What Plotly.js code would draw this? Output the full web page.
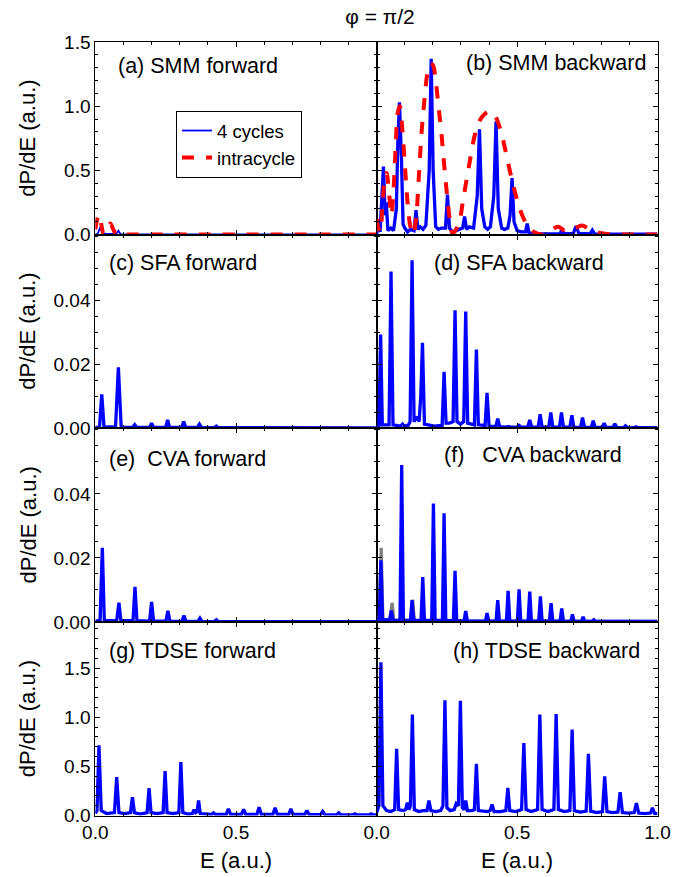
<!DOCTYPE html>
<html>
<head>
<meta charset="utf-8">
<script src="https://cdn.plot.ly/plotly-3.0.1.min.js"></script>
<style>html,body{margin:0;padding:0;background:#fff;}#chart{width:696px;height:877px;}</style>
</head>
<body>
<div id="chart"></div>
<script>
// ---------------- DATA ----------------
// (a) SMM forward
const aBlueE = [0, 0.008, 0.018, 0.026, 0.04, 0.06, 0.074, 0.082, 0.09, 0.11, 0.5, 1.0];
const aBlueV = [0.0, 0.004, 0.057, 0.008, 0.004, 0.004, 0.004, 0.03, 0.003, 0.001, 0.001, 0.001];
const aRedE = [0, 0.007, 0.014, 0.022, 0.03, 0.042, 0.053, 0.064, 0.075, 0.1, 1.0];
const aRedV = [0.04, 0.12, 0.155, 0.07, 0.0, 0.05, 0.085, 0.04, 0.0, 0.0, 0.0];

// (b) SMM backward
const bBlueE = [0, 0.006, 0.012, 0.018, 0.024, 0.03, 0.034, 0.04, 0.05, 0.06, 0.07, 0.075, 0.081, 0.088, 0.094, 0.1, 0.11, 0.12, 0.133, 0.14, 0.147, 0.155, 0.165, 0.175, 0.187, 0.194, 0.201, 0.21, 0.22, 0.23, 0.245, 0.252, 0.259, 0.27, 0.285, 0.298, 0.306, 0.313, 0.32, 0.33, 0.345, 0.358, 0.366, 0.374, 0.385, 0.395, 0.405, 0.417, 0.425, 0.433, 0.445, 0.455, 0.467, 0.475, 0.482, 0.489, 0.5, 0.515, 0.53, 0.536, 0.542, 0.56, 0.59, 0.62, 0.652, 0.66, 0.668, 0.7, 0.71, 0.72, 0.76, 0.768, 0.776, 0.85, 1.0];
const bBlueV = [0.0, 0.12, 0.02, 0.3, 0.53, 0.15, 0.25, 0.03, 0.05, 0.03, 0.2, 0.7, 1.03, 0.6, 0.08, 0.05, 0.02, 0.04, 0.03, 0.19, 0.04, 0.06, 0.04, 0.07, 0.5, 1.37, 0.5, 0.06, 0.04, 0.05, 0.05, 0.31, 0.05, 0.02, 0.03, 0.04, 0.05, 0.14, 0.04, 0.06, 0.05, 0.3, 0.82, 0.2, 0.06, 0.04, 0.06, 0.3, 0.88, 0.2, 0.05, 0.04, 0.05, 0.15, 0.44, 0.1, 0.03, 0.02, 0.02, 0.086, 0.015, 0.005, 0.003, 0.005, 0.005, 0.035, 0.005, 0.008, 0.065, 0.008, 0.005, 0.034, 0.005, 0.002, 0.002];
const bRedE = [0, 0.006, 0.012, 0.02, 0.028, 0.035, 0.043, 0.052, 0.06, 0.068, 0.075, 0.082, 0.09, 0.1, 0.11, 0.12, 0.13, 0.14, 0.15, 0.16, 0.17, 0.18, 0.19, 0.2, 0.21, 0.22, 0.23, 0.24, 0.25, 0.26, 0.27, 0.29, 0.31, 0.33, 0.35, 0.37, 0.39, 0.4, 0.42, 0.44, 0.46, 0.48, 0.5, 0.52, 0.54, 0.56, 0.59, 0.62, 0.645, 0.67, 0.7, 0.73, 0.76, 0.8, 0.85, 0.9, 1.0];
const bRedV = [0.12, 0.05, 0.02, 0.2, 0.42, 0.48, 0.35, 0.15, 0.35, 0.7, 0.95, 1.0, 0.85, 0.55, 0.25, 0.06, 0.0, 0.12, 0.45, 0.8, 1.05, 1.25, 1.33, 1.32, 1.2, 1.0, 0.8, 0.55, 0.32, 0.12, 0.01, 0.07, 0.3, 0.55, 0.78, 0.9, 0.95, 0.96, 0.93, 0.82, 0.64, 0.44, 0.27, 0.14, 0.06, 0.02, 0.0, 0.03, 0.06, 0.03, 0.04, 0.07, 0.04, 0.01, 0.0, 0.0, 0.0];

// (c) SFA forward
const cE = [0, 0.015, 0.023, 0.031, 0.072, 0.082, 0.092, 0.133, 0.14, 0.147, 0.193, 0.2, 0.207, 0.25, 0.257, 0.264, 0.307, 0.314, 0.321, 0.363, 0.37, 0.377, 0.423, 0.43, 0.437, 0.48, 0.487, 0.494, 1.0];
const cV = [0.0002, 0.0003, 0.0105, 0.0003, 0.0004, 0.019, 0.0003, 0.0002, 0.001, 0.0002, 0.0002, 0.0015, 0.0002, 0.0002, 0.0025, 0.0002, 0.0002, 0.002, 0.0002, 0.0002, 0.0012, 0.0002, 0.0001, 0.0006, 0.0001, 0.0001, 0.0003, 0.0001, 0.0];

// (d) SFA backward
const dE = [0, 0.008, 0.014, 0.02, 0.044, 0.051, 0.058, 0.085, 0.092, 0.099, 0.112, 0.119, 0.126, 0.133, 0.145, 0.151, 0.157, 0.163, 0.17, 0.19, 0.205, 0.233, 0.24, 0.247, 0.259, 0.272, 0.279, 0.286, 0.298, 0.31, 0.317, 0.324, 0.348, 0.355, 0.362, 0.386, 0.393, 0.4, 0.424, 0.431, 0.438, 0.462, 0.469, 0.476, 0.5, 0.507, 0.514, 0.538, 0.545, 0.552, 0.575, 0.582, 0.589, 0.613, 0.62, 0.627, 0.651, 0.658, 0.665, 0.688, 0.695, 0.702, 0.726, 0.733, 0.74, 0.764, 0.771, 0.778, 0.803, 0.81, 0.817, 0.841, 0.848, 0.855, 0.879, 0.886, 0.893, 0.917, 0.924, 0.931, 0.955, 0.962, 0.969, 1.0];
const dV = [0.0005, 0.0008, 0.0293, 0.001, 0.001, 0.049, 0.001, 0.0006, 0.0012, 0.0006, 0.0008, 0.002, 0.0525, 0.002, 0.0035, 0.002, 0.01, 0.0267, 0.0012, 0.0008, 0.0006, 0.0008, 0.0176, 0.0015, 0.0015, 0.002, 0.0369, 0.002, 0.0012, 0.002, 0.0365, 0.0015, 0.001, 0.0246, 0.001, 0.0008, 0.011, 0.0006, 0.0004, 0.0029, 0.0004, 0.0003, 0.0005, 0.0003, 0.0003, 0.0008, 0.0003, 0.0003, 0.0025, 0.0003, 0.0003, 0.0043, 0.0003, 0.0003, 0.0049, 0.0003, 0.0003, 0.0049, 0.0003, 0.0003, 0.004, 0.0003, 0.0002, 0.0033, 0.0002, 0.0002, 0.0023, 0.0002, 0.0002, 0.0015, 0.0002, 0.0002, 0.0013, 0.0002, 0.0001, 0.0007, 0.0001, 0.0001, 0.0004, 0.0001, 0.0001, 0.0003, 0.0001, 0.0001];

// (e) CVA forward
const eE = [0, 0.017, 0.025, 0.032, 0.076, 0.084, 0.091, 0.134, 0.141, 0.148, 0.193, 0.2, 0.207, 0.251, 0.258, 0.265, 0.308, 0.315, 0.322, 0.365, 0.372, 0.379, 0.423, 0.43, 0.437, 0.48, 0.487, 0.494, 1.0];
const eV = [0.0003, 0.0005, 0.0232, 0.0005, 0.0004, 0.006, 0.0004, 0.0004, 0.011, 0.0004, 0.0003, 0.0063, 0.0003, 0.0003, 0.0035, 0.0003, 0.0002, 0.002, 0.0002, 0.0002, 0.0012, 0.0002, 0.0001, 0.0007, 0.0001, 0.0001, 0.0003, 0.0001, 0.0001];

// (f) CVA backward (blue) and the grey curve behind it
const fE = [0, 0.009, 0.015, 0.021, 0.046, 0.052, 0.058, 0.083, 0.089, 0.095, 0.12, 0.126, 0.132, 0.158, 0.164, 0.17, 0.196, 0.202, 0.208, 0.234, 0.24, 0.246, 0.273, 0.279, 0.285, 0.311, 0.317, 0.323, 0.387, 0.393, 0.399, 0.425, 0.431, 0.437, 0.462, 0.468, 0.474, 0.501, 0.507, 0.513, 0.539, 0.545, 0.551, 0.577, 0.583, 0.589, 0.615, 0.621, 0.627, 0.653, 0.659, 0.665, 0.691, 0.697, 0.703, 0.729, 0.735, 0.741, 0.767, 0.773, 0.779, 0.804, 0.81, 0.816, 0.844, 0.85, 0.856, 1.0];
const fV = [0.0003, 0.0006, 0.0193, 0.0008, 0.0006, 0.0036, 0.0005, 0.0005, 0.049, 0.0006, 0.0005, 0.0068, 0.0005, 0.0005, 0.014, 0.0005, 0.0005, 0.037, 0.0005, 0.0005, 0.034, 0.0005, 0.0004, 0.016, 0.0004, 0.0003, 0.0034, 0.0003, 0.0003, 0.0028, 0.0003, 0.0003, 0.0068, 0.0003, 0.0003, 0.0097, 0.0003, 0.0003, 0.0102, 0.0003, 0.0003, 0.0095, 0.0003, 0.0003, 0.008, 0.0003, 0.0003, 0.0059, 0.0003, 0.0003, 0.0042, 0.0003, 0.0002, 0.0024, 0.0002, 0.0002, 0.0016, 0.0002, 0.0002, 0.0007, 0.0002, 0.0002, 0.0004, 0.0002, 0.0002, 0.0003, 0.0002, 0.0002];
const fGreyE = [0, 0.009, 0.016, 0.022, 0.047, 0.055, 0.061, 0.12, 0.128, 0.134, 0.3, 1.0];
const fGreyV = [0.0003, 0.0006, 0.0232, 0.0008, 0.0006, 0.006, 0.0005, 0.0005, 0.007, 0.0005, 0.0003, 0.0002];

// (g) TDSE forward
const gE = [0, 0.006, 0.013, 0.021, 0.04, 0.068, 0.076, 0.084, 0.105, 0.125, 0.132, 0.139, 0.16, 0.184, 0.191, 0.198, 0.22, 0.241, 0.248, 0.255, 0.275, 0.297, 0.304, 0.311, 0.33, 0.345, 0.351, 0.357, 0.362, 0.367, 0.373, 0.4, 0.414, 0.42, 0.426, 0.465, 0.473, 0.481, 0.519, 0.527, 0.535, 0.574, 0.582, 0.59, 0.631, 0.639, 0.647, 0.687, 0.695, 0.703, 0.744, 0.752, 0.76, 0.8, 0.808, 0.816, 0.857, 0.865, 0.873, 0.914, 0.922, 0.93, 0.972, 0.98, 0.988, 1.0];
const gV = [0.02, 0.05, 0.714, 0.05, 0.02, 0.03, 0.39, 0.03, 0.02, 0.03, 0.187, 0.03, 0.015, 0.03, 0.279, 0.03, 0.02, 0.03, 0.452, 0.03, 0.02, 0.03, 0.544, 0.03, 0.015, 0.02, 0.058, 0.03, 0.04, 0.153, 0.02, 0.01, 0.012, 0.027, 0.012, 0.01, 0.068, 0.01, 0.01, 0.061, 0.01, 0.01, 0.085, 0.01, 0.01, 0.078, 0.01, 0.01, 0.068, 0.01, 0.01, 0.051, 0.01, 0.008, 0.041, 0.008, 0.006, 0.027, 0.006, 0.005, 0.017, 0.005, 0.005, 0.017, 0.005, 0.005];

// (h) TDSE backward
const hE = [0, 0.008, 0.015, 0.022, 0.035, 0.05, 0.064, 0.071, 0.078, 0.095, 0.103, 0.109, 0.115, 0.12, 0.127, 0.134, 0.15, 0.165, 0.179, 0.186, 0.193, 0.21, 0.228, 0.236, 0.243, 0.25, 0.262, 0.276, 0.283, 0.291, 0.298, 0.305, 0.311, 0.317, 0.323, 0.34, 0.348, 0.355, 0.362, 0.38, 0.395, 0.404, 0.411, 0.418, 0.44, 0.46, 0.467, 0.474, 0.495, 0.516, 0.524, 0.532, 0.55, 0.573, 0.581, 0.589, 0.61, 0.631, 0.639, 0.647, 0.668, 0.688, 0.696, 0.704, 0.725, 0.746, 0.754, 0.762, 0.783, 0.804, 0.812, 0.82, 0.84, 0.859, 0.867, 0.875, 0.897, 0.917, 0.925, 0.933, 0.955, 0.975, 0.982, 0.99, 1.0];
const hV = [0.03, 0.1, 1.56, 0.1, 0.05, 0.04, 0.06, 0.68, 0.06, 0.05, 0.06, 0.13, 0.06, 0.1, 1.027, 0.06, 0.04, 0.05, 0.05, 0.153, 0.05, 0.04, 0.05, 0.1, 1.173, 0.08, 0.05, 0.06, 0.12, 0.1, 1.167, 0.08, 0.06, 0.153, 0.05, 0.05, 0.06, 0.527, 0.05, 0.04, 0.04, 0.05, 0.112, 0.04, 0.04, 0.05, 0.282, 0.05, 0.04, 0.06, 0.738, 0.06, 0.04, 0.06, 1.027, 0.06, 0.04, 0.06, 1.034, 0.06, 0.04, 0.05, 0.874, 0.05, 0.035, 0.045, 0.629, 0.045, 0.03, 0.04, 0.398, 0.04, 0.03, 0.035, 0.238, 0.03, 0.025, 0.03, 0.126, 0.025, 0.02, 0.025, 0.078, 0.02, 0.02];

const panelLabels = ['(a) SMM forward', '(b) SMM backward', '(c) SFA forward', '(d) SFA backward',
                     '(e)\u00a0\u00a0CVA forward', '(f)\u00a0\u00a0\u00a0CVA backward', '(g) TDSE forward', '(h) TDSE backward'];
const legendNames = ['4 cycles', 'intracycle'];
const titleText = '\u03c6 = \u03c0/2';
const yTitle = 'dP/dE (a.u.)';
const xTitle = 'E (a.u.)';
const xTickVals = [0, 0.5, 1.0];
const xTickTextLeft = ['0.0', '0.5', ''];
const xTickTextRight = ['0.0', '0.5', '1.0'];
const yTickValsBig = [0, 0.5, 1.0, 1.5];
const yTickValsSmall = [0, 0.02, 0.04];
const yRanges = [[0, 1.5], [0, 0.0606], [0, 0.0606], [0, 1.97]];

// ---------------- LAYOUT ----------------
const W = 696, H = 877;
const FONT = 'Arial, "Liberation Sans", sans-serif';
const BLUE = 'rgb(0,0,255)', RED = 'rgb(255,0,0)', GREY = 'rgb(128,128,128)';
const colPx = [[95.3, 376.7], [376.7, 657.5]];
const rowPx = [[42, 234.5], [234.5, 428], [428, 622], [622, 815.5]];

const layout = {
  width: W, height: H,
  margin: {l: 0, r: 0, t: 0, b: 0},
  paper_bgcolor: '#fff', plot_bgcolor: '#fff',
  font: {family: FONT, color: '#000', size: 18},
  showlegend: true,
  legend: {x: 176/W, y: 1 - 111/H, xanchor: 'left', yanchor: 'top',
           bordercolor: '#000', borderwidth: 1, bgcolor: '#fff',
           font: {family: FONT, size: 18.5, color: '#000'}, tracegroupgap: 0},
  title: {text: titleText, x: 380/W, y: 1 - 17/H, xanchor: 'center', yanchor: 'middle',
          xref: 'paper', yref: 'container', font: {family: FONT, size: 21, color: '#000'}},
  annotations: []
};

for (let r = 0; r < 4; r++) {
  for (let c = 0; c < 2; c++) {
    const k = r * 2 + c + 1;
    const xs = k === 1 ? '' : String(k);
    const bottom = (r === 3);
    layout['xaxis' + xs] = {
      domain: [colPx[c][0] / W, colPx[c][1] / W],
      anchor: 'y' + xs, range: [0, 1],
      showline: true, linecolor: '#000', linewidth: 1, mirror: 'ticks',
      ticks: 'inside', ticklen: 5, tickcolor: '#000', tickwidth: 1,
      tickmode: 'array', tickvals: xTickVals,
      ticktext: c === 0 ? xTickTextLeft : xTickTextRight,
      showticklabels: bottom,
      tickfont: {family: FONT, size: 19, color: '#000'},
      minor: {dtick: 0.1, tick0: 0, ticks: 'inside', ticklen: 3, tickcolor: '#000', showgrid: false},
      showgrid: false, zeroline: false, fixedrange: true
    };
    const big = (r === 0 || r === 3);
    layout['yaxis' + xs] = {
      domain: [1 - rowPx[r][1] / H, 1 - rowPx[r][0] / H],
      anchor: 'x' + xs, range: yRanges[r],
      showline: true, linecolor: '#000', linewidth: 1, mirror: 'ticks',
      ticks: 'inside', ticklen: 5, tickcolor: '#000', tickwidth: 1,
      tickmode: 'array', tickvals: big ? yTickValsBig : yTickValsSmall,
      tickformat: big ? '.1f' : '.2f',
      showticklabels: c === 0,
      tickfont: {family: FONT, size: 19, color: '#000'},
      minor: {dtick: big ? 0.1 : 0.005, tick0: 0, ticks: 'inside', ticklen: 3, tickcolor: '#000', showgrid: false},
      showgrid: false, zeroline: false, fixedrange: true
    };
  }
}

// panel labels
const labelPos = [[116, 66], [464, 63], [107, 263], [432, 263], [107, 459], [442, 455], [107, 651], [451, 651]];
panelLabels.forEach((t, i) => {
  layout.annotations.push({text: t, xref: 'paper', yref: 'paper', x: labelPos[i][0] / W, y: 1 - labelPos[i][1] / H,
    xanchor: 'left', yanchor: 'middle', showarrow: false, font: {family: FONT, size: 21.5, color: '#000'}});
});
// y-axis titles (one per row)
rowPx.forEach(rp => {
  layout.annotations.push({text: yTitle, xref: 'paper', yref: 'paper', x: 27.5 / W, y: 1 - (rp[0] + rp[1]) / 2 / H,
    xanchor: 'center', yanchor: 'middle', textangle: -90, showarrow: false, font: {family: FONT, size: 22, color: '#000'}});
});
// x-axis titles
colPx.forEach(cp => {
  layout.annotations.push({text: xTitle, xref: 'paper', yref: 'paper', x: (cp[0] + cp[1]) / 2 / W, y: 1 - 860 / H,
    xanchor: 'center', yanchor: 'middle', showarrow: false, font: {family: FONT, size: 22, color: '#000'}});
});

// ---------------- TRACES ----------------
function line(x, y, k, color, width, extra) {
  const s = k === 1 ? '' : String(k);
  return Object.assign({type: 'scatter', mode: 'lines', x: x, y: y, xaxis: 'x' + s, yaxis: 'y' + s,
    line: {color: color, width: width}, showlegend: false, hoverinfo: 'skip', cliponaxis: true}, extra || {});
}
const traces = [
  line(aBlueE, aBlueV, 1, BLUE, 1.8, {name: legendNames[0], showlegend: true}),
  line(aRedE, aRedV, 1, RED, 4, {name: legendNames[1], showlegend: true, line: {color: RED, width: 4, dash: 'dash', shape: 'spline'}}),
  line(bBlueE, bBlueV, 2, BLUE, 3.3),
  line(bRedE, bRedV, 2, RED, 4, {line: {color: RED, width: 4, dash: 'dash', shape: 'spline'}}),
  line(cE, cV, 3, BLUE, 3.3),
  line(dE, dV, 4, BLUE, 3.3),
  line(eE, eV, 5, BLUE, 3.3),
  line(fGreyE, fGreyV, 6, GREY, 3.3),
  line(fE, fV, 6, BLUE, 3.3),
  line(gE, gV, 7, BLUE, 3.3),
  line(hE, hV, 8, BLUE, 3.3)
];

Plotly.newPlot('chart', traces, layout, {staticPlot: true, displayModeBar: false});
</script>
</body>
</html>
